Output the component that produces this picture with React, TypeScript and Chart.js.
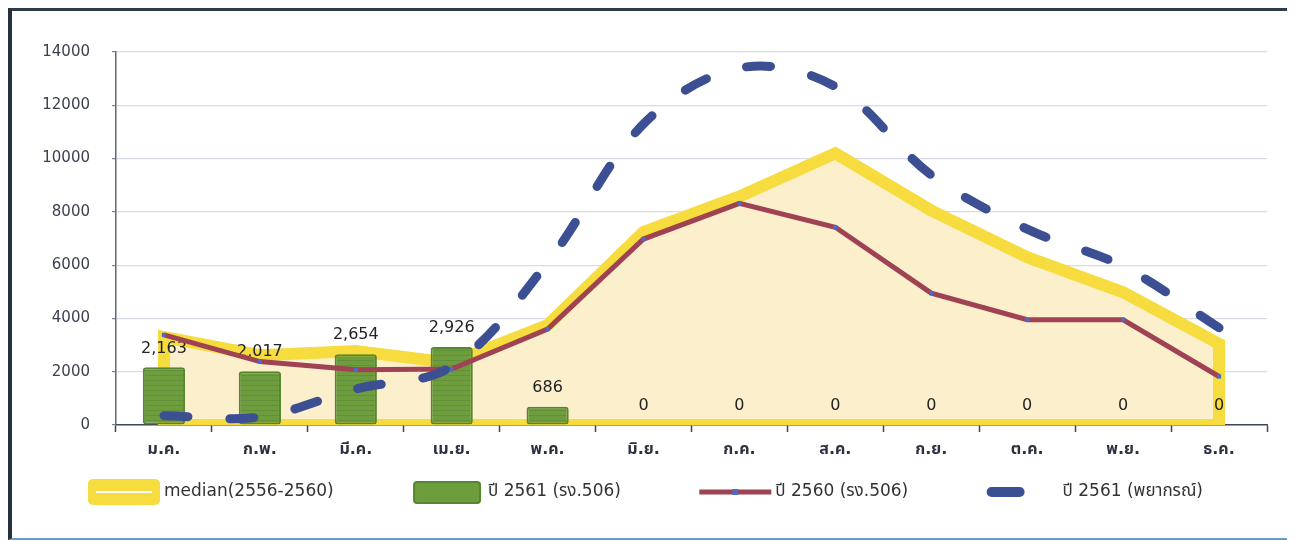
import React, { useEffect, useRef } from 'react';
import { Chart, registerables } from 'chart.js';

Chart.register(...registerables);

// ---------- data ----------
const months = ['ม.ค.', 'ก.พ.', 'มี.ค.', 'เม.ย.', 'พ.ค.', 'มิ.ย.', 'ก.ค.', 'ส.ค.', 'ก.ย.', 'ต.ค.', 'พ.ย.', 'ธ.ค.'];
const medianValues = [3300, 2620, 2780, 2330, 3750, 7250, 8580, 10200, 8050, 6300, 4980, 3050];
const bars2561 = [2163, 2017, 2654, 2926, 686, 0, 0, 0, 0, 0, 0, 0];
const line2560 = [3380, 2380, 2070, 2100, 3600, 6980, 8320, 7420, 4950, 3950, 3950, 1820];
const forecast2561 = [350, 300, 1350, 2210, 6100, 11300, 13400, 12700, 9380, 7350, 5950, 3650];
const yMin = 0;
const yMax = 14000;
const yStep = 2000;
const seriesNames = ['median(2556-2560)', 'ปี 2561 (รง.506)', 'ปี 2560 (รง.506)', 'ปี 2561 (พยากรณ์)'];

const FONT = "'DejaVu Sans', 'Noto Sans Thai', 'Noto Sans', sans-serif";
const YELLOW = '#f6dc3e';
const CREAM = '#fcefcb';
const GREEN = '#6e9d3d';
const GREEN_EDGE = '#56862f';
const RED = '#9e4254';
const MARKER = '#5068c8';
const BLUE = '#3d4f93';

function makeBarPattern(): CanvasPattern | string {
  const c = document.createElement('canvas');
  c.width = 4;
  c.height = 5;
  const g = c.getContext('2d');
  if (!g) return GREEN;
  g.fillStyle = GREEN;
  g.fillRect(0, 0, 4, 5);
  g.fillStyle = '#62903a';
  g.fillRect(0, 4, 4, 1);
  const p = g.createPattern(c, 'repeat');
  return p || GREEN;
}

const areaOutline = {
  id: 'areaOutline',
  afterDatasetDraw(chart: any, args: any) {
    if (args.index !== 0) return;
    const pts = args.meta.data;
    if (!pts.length) return;
    const y0 = chart.scales.y.getPixelForValue(0);
    const ctx = chart.ctx;
    const ca = chart.chartArea;
    ctx.save();
    ctx.beginPath();
    ctx.rect(ca.left, ca.top - 10, ca.right - ca.left, ca.bottom - ca.top + 10);
    ctx.clip();
    ctx.beginPath();
    ctx.moveTo(pts[0].x, y0);
    pts.forEach((p: any) => ctx.lineTo(p.x, p.y));
    ctx.lineTo(pts[pts.length - 1].x, y0);
    ctx.closePath();
    ctx.lineWidth = 12;
    ctx.lineJoin = 'miter';
    ctx.strokeStyle = YELLOW;
    ctx.stroke();
    ctx.restore();
  },
};

const barLabels = {
  id: 'barLabels',
  afterDatasetDraw(chart: any, args: any) {
    if (args.index !== 1) return;
    const ctx = chart.ctx;
    const data = chart.data.datasets[1].data as number[];
    ctx.save();
    ctx.font = `16px ${FONT}`;
    ctx.fillStyle = '#232323';
    ctx.textAlign = 'center';
    ctx.textBaseline = 'bottom';
    args.meta.data.forEach((el: any, i: number) => {
      const v = data[i];
      ctx.fillText(v.toLocaleString('en-US'), el.x, el.y - 11);
    });
    ctx.restore();
  },
};

const customLegend = {
  id: 'customLegend',
  afterDraw(chart: any) {
    const ctx = chart.ctx;
    const ca = chart.chartArea;
    const y = ca.bottom + 67;
    const sw = 72;
    const gapText = 4;
    ctx.save();
    ctx.font = `17px ${FONT}`;
    const widths = seriesNames.map((n) => sw + gapText + ctx.measureText(n).width);
    const start = ca.left - 28;
    const end = ca.right - 64;
    const total = widths.reduce((a, b) => a + b, 0);
    const gap = (end - start - total) / (seriesNames.length - 1);
    let x = start;
    seriesNames.forEach((name, i) => {
      if (i === 0) {
        ctx.fillStyle = YELLOW;
        ctx.beginPath();
        (ctx as any).roundRect(x, y - 13, sw, 26, 5);
        ctx.fill();
        ctx.strokeStyle = '#ffffff';
        ctx.lineWidth = 2;
        ctx.beginPath();
        ctx.moveTo(x + 8, y);
        ctx.lineTo(x + sw - 8, y);
        ctx.stroke();
      } else if (i === 1) {
        ctx.fillStyle = GREEN;
        ctx.strokeStyle = GREEN_EDGE;
        ctx.lineWidth = 2;
        ctx.beginPath();
        (ctx as any).roundRect(x + 2, y - 10, sw - 6, 21, 3);
        ctx.fill();
        ctx.stroke();
      } else if (i === 2) {
        ctx.strokeStyle = RED;
        ctx.lineWidth = 5;
        ctx.beginPath();
        ctx.moveTo(x, y);
        ctx.lineTo(x + sw, y);
        ctx.stroke();
        ctx.fillStyle = MARKER;
        ctx.fillRect(x + sw / 2 - 3, y - 3, 6, 6);
      } else {
        ctx.strokeStyle = BLUE;
        ctx.lineWidth = 10;
        ctx.lineCap = 'round';
        ctx.beginPath();
        ctx.moveTo(x + 5, y);
        ctx.lineTo(x + 33, y);
        ctx.stroke();
        ctx.lineCap = 'butt';
      }
      ctx.fillStyle = '#333333';
      ctx.textAlign = 'left';
      ctx.textBaseline = 'middle';
      ctx.fillText(name, x + sw + gapText, y);
      x += widths[i] + gap;
    });
    ctx.restore();
  },
};

export default function App() {
  const canvasRef = useRef<HTMLCanvasElement | null>(null);

  useEffect(() => {
    const canvas = canvasRef.current;
    if (!canvas) return;
    const chart = new Chart(canvas, {
      type: 'bar',
      data: {
        labels: months,
        datasets: [
          {
            type: 'line',
            label: seriesNames[0],
            data: medianValues,
            backgroundColor: CREAM,
            borderColor: 'rgba(0,0,0,0)',
            borderWidth: 0,
            fill: 'origin',
            pointRadius: 0,
            tension: 0,
            order: 4,
          } as any,
          {
            type: 'bar',
            label: seriesNames[1],
            data: bars2561,
            backgroundColor: makeBarPattern(),
            borderColor: GREEN_EDGE,
            borderWidth: 2,
            borderRadius: 3,
            borderSkipped: false,
            barPercentage: 0.44,
            categoryPercentage: 1,
            order: 3,
          } as any,
          {
            type: 'line',
            label: seriesNames[2],
            data: line2560,
            borderColor: RED,
            borderWidth: 5,
            pointStyle: 'rect',
            pointRadius: 3,
            pointBackgroundColor: MARKER,
            pointBorderWidth: 0,
            tension: 0,
            fill: false,
            order: 2,
          } as any,
          {
            type: 'line',
            label: seriesNames[3],
            data: forecast2561,
            borderColor: BLUE,
            borderWidth: 9,
            borderDash: [24, 42],
            borderCapStyle: 'round',
            pointRadius: 0,
            tension: 0.35,
            fill: false,
            order: 1,
          } as any,
        ],
      },
      options: {
        animation: false,
        responsive: true,
        maintainAspectRatio: false,
        layout: { padding: { left: 0, right: 20, top: 41, bottom: 63 } },
        plugins: {
          legend: { display: false },
          tooltip: { enabled: false },
        },
        scales: {
          x: {
            offset: true,
            grid: {
              offset: true,
              drawOnChartArea: false,
              drawTicks: true,
              tickLength: 7,
              tickWidth: 1.5,
              tickColor: '#3d4659',
            },
            border: { display: true, color: '#3d4659', width: 1.5 },
            ticks: {
              color: '#2b3140',
              font: { family: FONT, size: 16, weight: 'bold' },
              padding: 8,
            },
            afterFit: (scale: any) => {
              scale.height = 50;
            },
          },
          y: {
            min: yMin,
            max: yMax,
            ticks: {
              stepSize: yStep,
              color: '#3c4150',
              font: { family: FONT, size: 15 },
              padding: 22,
              callback: (v: any) => String(v),
            },
            grid: {
              color: '#dad9e6',
              lineWidth: 1.2,
              tickLength: 4,
              tickColor: '#7a8090',
            },
            border: { display: true, color: '#606878', width: 1.5 },
            afterFit: (scale: any) => {
              scale.width = 104;
            },
          },
        },
      } as any,
      plugins: [areaOutline, barLabels, customLegend],
    });
    return () => chart.destroy();
  }, []);

  return (
    <div
      style={{
        boxSizing: 'border-box',
        width: 1284,
        height: 532,
        borderTop: '3px solid #2f3b46',
        borderLeft: '4px solid #26303a',
        borderRight: '5px solid #1e2833',
        borderBottom: '2px solid #6a9cc0',
        background: '#ffffff',
      }}
    >
      <div style={{ position: 'relative', width: '100%', height: '100%' }}>
        <canvas ref={canvasRef} />
      </div>
    </div>
  );
}
